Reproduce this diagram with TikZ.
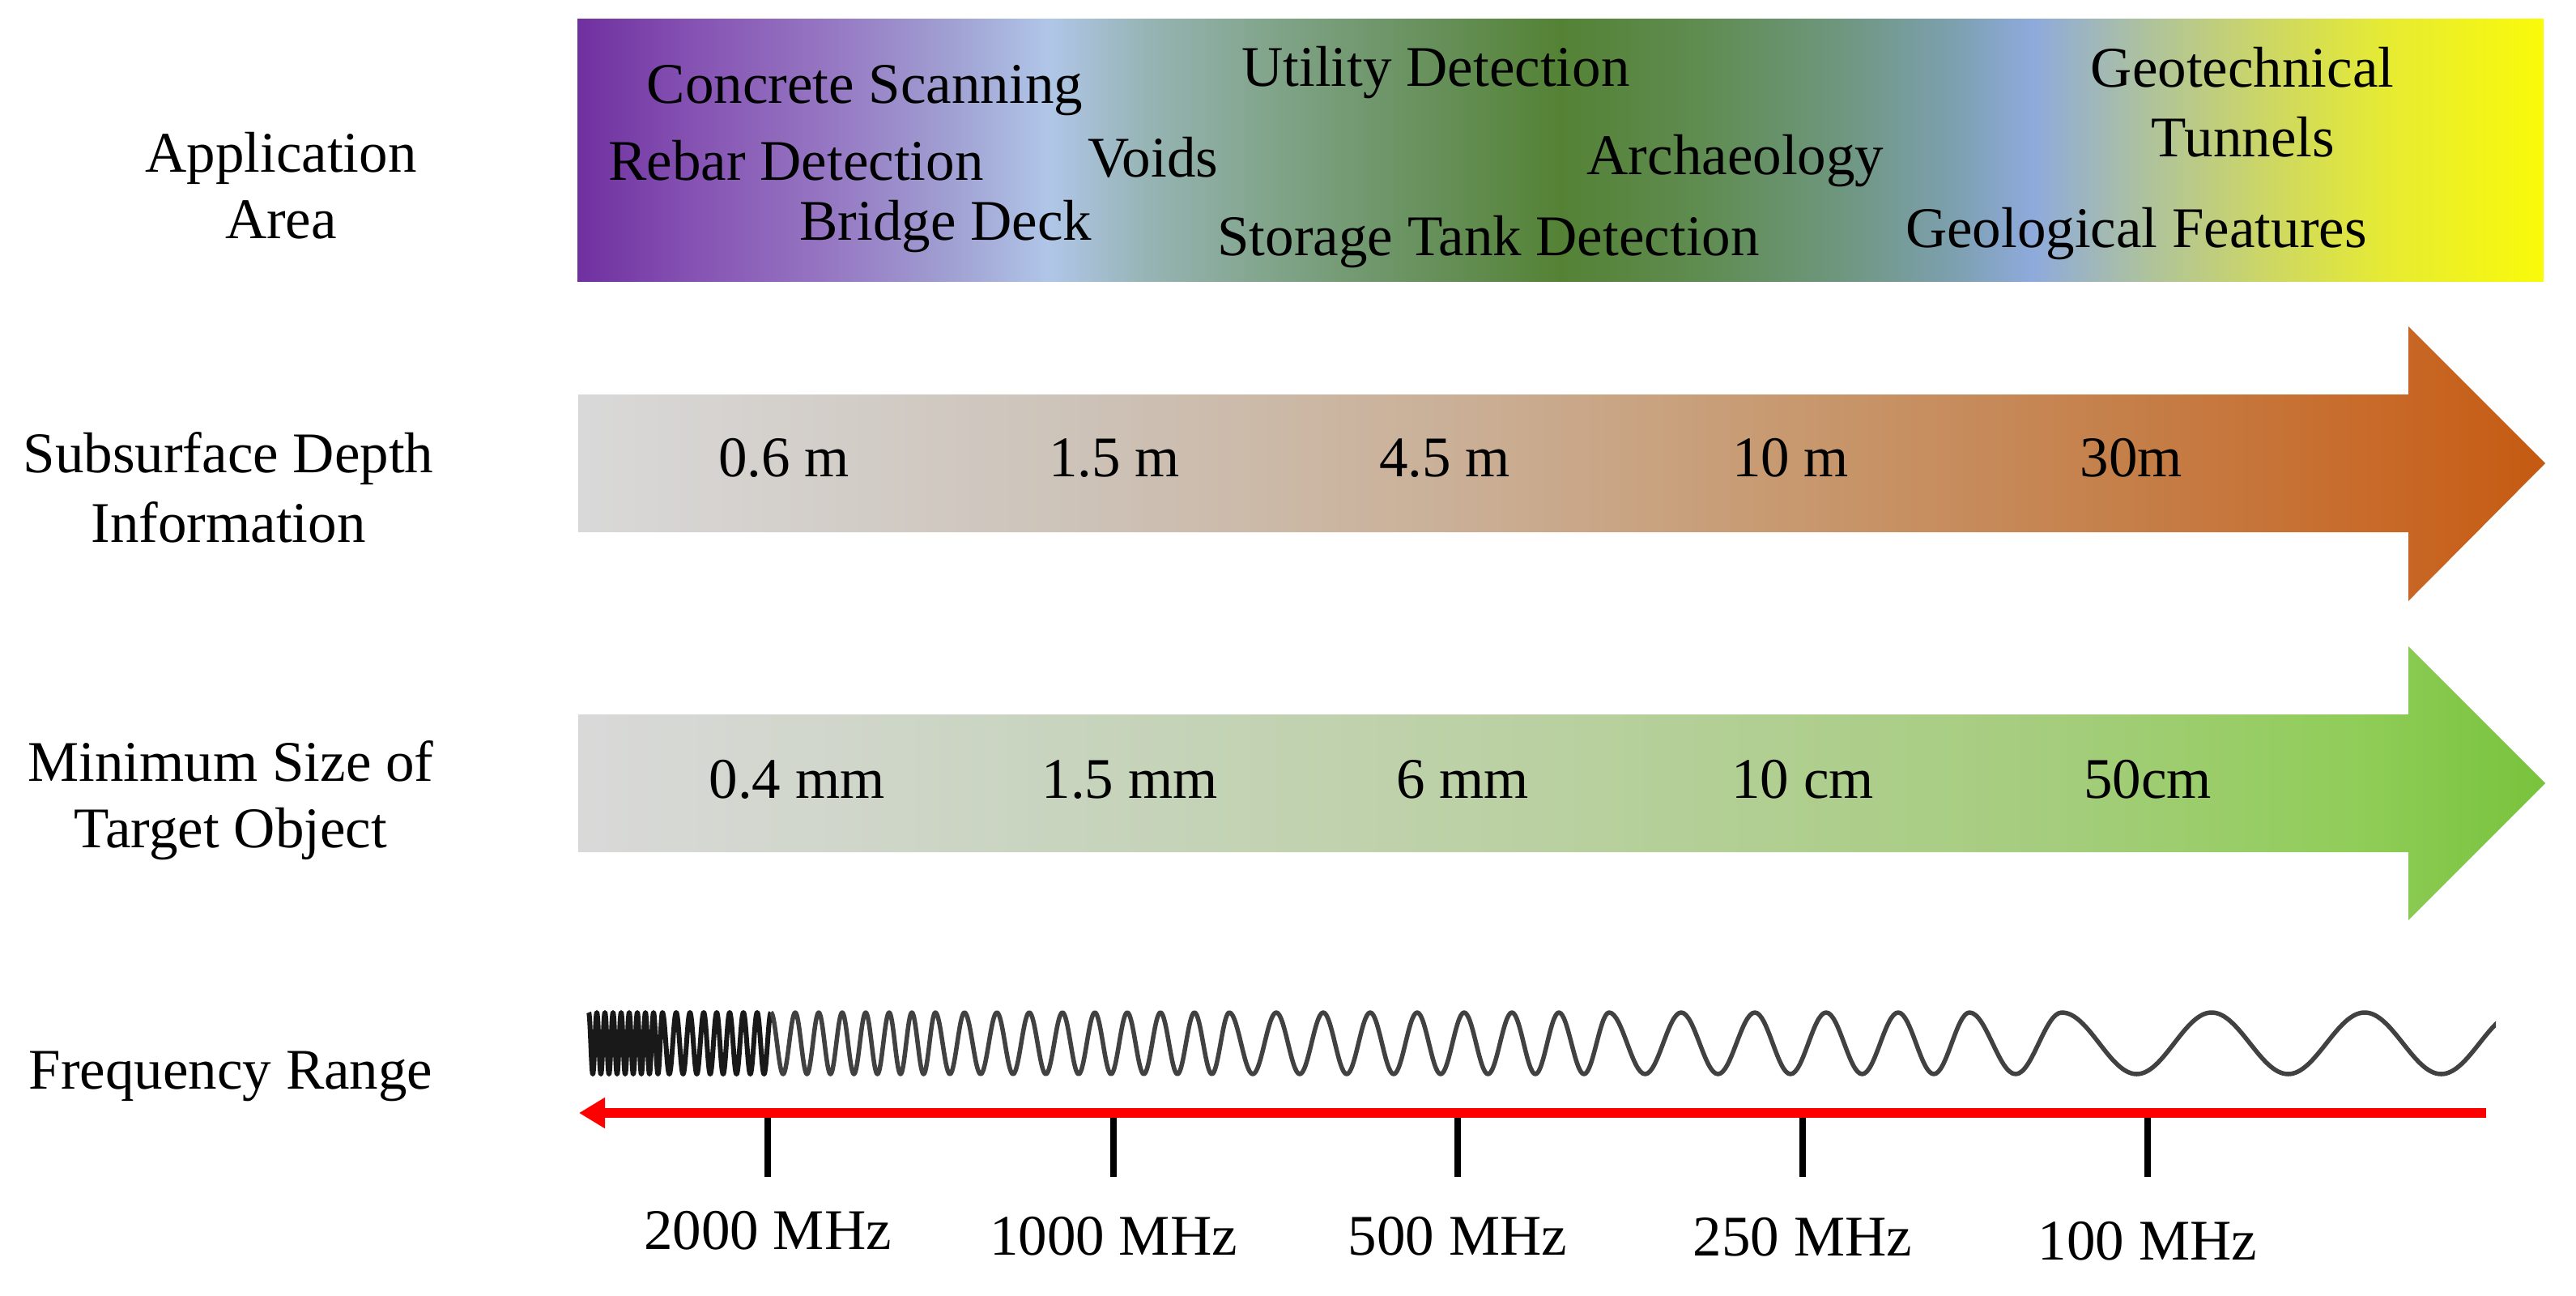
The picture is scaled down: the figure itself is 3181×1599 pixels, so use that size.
\documentclass[tikz,border=0pt]{standalone}
\usepackage{fontspec}
\setmainfont{Liberation Serif}
\usetikzlibrary{arrows.meta}
% top bar colours
\definecolor{ta}{RGB}{112,48,160}
\definecolor{tb}{RGB}{135,85,180}
\definecolor{tc}{RGB}{150,120,195}
\definecolor{td}{RGB}{160,160,210}
\definecolor{te}{RGB}{176,198,232}
\definecolor{tf}{RGB}{150,180,180}
\definecolor{tg}{RGB}{130,165,140}
\definecolor{th}{RGB}{110,150,105}
\definecolor{ti}{RGB}{84,130,53}
\definecolor{tj}{RGB}{95,140,80}
\definecolor{tk}{RGB}{110,150,125}
\definecolor{tl}{RGB}{125,160,175}
\definecolor{tm}{RGB}{142,170,220}
\definecolor{tn}{RGB}{175,195,155}
\definecolor{to}{RGB}{205,215,100}
\definecolor{tp}{RGB}{230,235,50}
\definecolor{tq}{RGB}{250,250,10}
% depth colours
\definecolor{da}{RGB}{217,217,217}
\definecolor{db}{RGB}{205,195,185}
\definecolor{dc}{RGB}{202,175,150}
\definecolor{dd}{RGB}{200,155,115}
\definecolor{de}{RGB}{197,125,70}
\definecolor{df}{RGB}{200,105,40}
\definecolor{dg}{RGB}{197,90,17}
% size colours
\definecolor{sa}{RGB}{217,217,217}
\definecolor{sb}{RGB}{200,212,190}
\definecolor{sc}{RGB}{185,208,160}
\definecolor{sd}{RGB}{165,205,125}
\definecolor{se}{RGB}{145,205,90}
\definecolor{sf}{RGB}{120,195,60}
\definecolor{wavegray}{RGB}{65,65,65}
\definecolor{wavedark}{RGB}{25,25,25}
\definecolor{redline}{RGB}{255,0,0}
\pgfdeclarehorizontalshading{topbar}{100bp}{color(0bp)=(ta); color(25bp)=(ta);
  color(28.2bp)=(tb); color(31.5bp)=(tc); color(34.5bp)=(td); color(37bp)=(te);
  color(39.5bp)=(tf); color(42.5bp)=(tg); color(45.5bp)=(th); color(50bp)=(ti);
  color(53.5bp)=(tj); color(57bp)=(tk); color(60bp)=(tl); color(62bp)=(tm);
  color(65bp)=(tn); color(68bp)=(to); color(71bp)=(tp); color(75bp)=(tq); color(100bp)=(tq)}
\pgfdeclarehorizontalshading{depthbar}{100bp}{color(0bp)=(da); color(25bp)=(da);
  color(37.5bp)=(db); color(47.5bp)=(dc); color(55bp)=(dd); color(65bp)=(de);
  color(71bp)=(df); color(75bp)=(dg); color(100bp)=(dg)}
\pgfdeclarehorizontalshading{sizebar}{100bp}{color(0bp)=(sa); color(25bp)=(sa);
  color(37.5bp)=(sb); color(50bp)=(sc); color(62.5bp)=(sd); color(70bp)=(se);
  color(75bp)=(sf); color(100bp)=(sf)}
\begin{document}
\begin{tikzpicture}[x=1pt,y=-1pt,
  lbl/.style={font=\fontsize{71}{81}\selectfont, inner sep=0pt, anchor=base},
  wavestyle/.style={draw=wavegray, line width=5.5pt, line join=round},
  densewave/.style={draw=wavedark, line width=6pt, line join=round},
  tickstyle/.style={draw=black, line width=8pt},
  redarrow/.style={draw=redline, line width=12pt, -{Triangle[length=32pt,width=36pt]}}]
\useasboundingbox (0,0) rectangle (3181,1599);
\fill[white] (0,0) rectangle (3181,1599);
% application bar
\shade[shading=topbar] (713,23) rectangle (3141,347);
% depth arrow
\shade[shading=depthbar] (714,487) -- (2974,487) -- (2974,403) -- (3143,572) -- (2974,742) -- (2974,657) -- (714,657) -- cycle;
% size arrow
\shade[shading=sizebar] (714,882) -- (2974,882) -- (2974,798) -- (3143,967) -- (2974,1136) -- (2974,1052) -- (714,1052) -- cycle;
% left labels
\node[lbl] (appA) at (347,212) {Application};
\node[lbl] (appB) at (347,294) {Area};
\node[lbl] (depA) at (282,583) {Subsurface Depth};
\node[lbl] (depB) at (282,669) {Information};
\node[lbl] (sizA) at (285,964) {Minimum Size of};
\node[lbl] (sizB) at (285,1046) {Target Object};
\node[lbl] (freq) at (285,1344) {Frequency Range};
% application texts
\node[lbl] (concrete) at (1068,127) {Concrete Scanning};
\node[lbl] (utility) at (1773,106) {Utility Detection};
\node[lbl] (geotech) at (2769,107) {Geotechnical};
\node[lbl] (rebar) at (983,222) {Rebar Detection};
\node[lbl] (voids) at (1424,218) {Voids};
\node[lbl] (archae) at (2143,215) {Archaeology};
\node[lbl] (tunnels) at (2770,193) {Tunnels};
\node[lbl] (bridge) at (1168,296) {Bridge Deck};
\node[lbl] (storage) at (1838,315) {Storage Tank Detection};
\node[lbl] (geolog) at (2638,305) {Geological Features};
% depth values
\node[lbl] (d1) at (968,588) {0.6 m};
\node[lbl] (d2) at (1376,588) {1.5 m};
\node[lbl] (d3) at (1784,588) {4.5 m};
\node[lbl] (d4) at (2211,588) {10 m};
\node[lbl] (d5) at (2632,588) {30m};
% size values
\node[lbl] (s1) at (984,985) {0.4 mm};
\node[lbl] (s2) at (1395,985) {1.5 mm};
\node[lbl] (s3) at (1806,985) {6 mm};
\node[lbl] (s4) at (2226,985) {10 cm};
\node[lbl] (s5) at (2652,985) {50cm};
% wave
\draw[densewave] (727,1250) foreach \a/\b in {727/737,737/747,747/757,757/767,767/777,777/787,787/797,797/807,807/818,818/835,835/852,852/869,869/885,885/901,901/918,918/935,935/952}
  { cos ({\a+(\b-\a)/4},1288) sin ({(\a+\b)/2},1326) cos ({\a+3*(\b-\a)/4},1288) sin (\b,1250) };
\begin{scope}
\clip (940,1200) rectangle (3082,1360);
\draw[wavestyle] (952,1250) foreach \a/\b in {952/982,982/1011,1011/1040,1040/1069,1069/1098,1098/1126,1126/1155,1155/1191,1191/1231,1231/1271,1271/1312,1312/1352,1352/1392,1392/1433,1433/1475,1475/1518,1518/1576,1576/1634,1634/1692,1692/1750,1750/1808,1808/1867,1867/1925,1925/1987,1987/2076,2076/2167,2167/2255,2255/2344,2344/2432,2432/2546,2546/2731,2731/2920,2920/3109}
  { cos ({\a+(\b-\a)/4},1288) sin ({(\a+\b)/2},1326) cos ({\a+3*(\b-\a)/4},1288) sin (\b,1250) };
\end{scope}
% red arrow
\coordinate (redR) at (3070,1374);
\coordinate (redL) at (715,1374);
\draw[redarrow] (redR) -- (redL);
% ticks and labels
\foreach \x/\n/\t/\yb in {948/f1/2000 MHz/1542, 1375/f2/1000 MHz/1549, 1800/f3/500 MHz/1549, 2226/f4/250 MHz/1550, 2652/f5/100 MHz/1555}{
  \coordinate (\n top) at (\x,1380);
  \coordinate (\n bot) at (\x,1453);
  \draw[tickstyle] (\n top) -- (\n bot);
  \node[lbl] (\n) at (\x,\yb) {\t};
}
\end{tikzpicture}
\end{document}
